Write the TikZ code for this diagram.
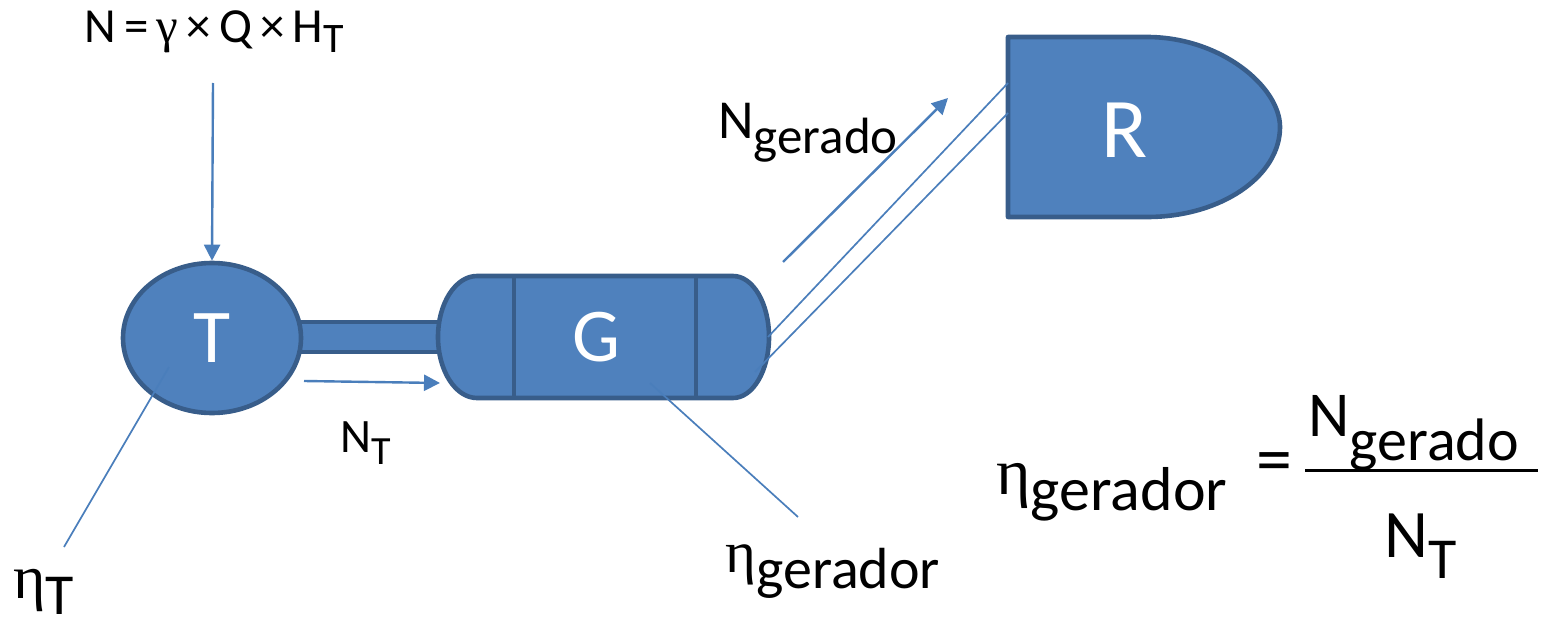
\documentclass[tikz,border=0pt]{standalone}
\usepackage{fontspec}
\setmainfont{Carlito}
\newfontfamily\greek{Liberation Serif}
\usetikzlibrary{shapes.geometric,arrows.meta}

\definecolor{shapefill}{HTML}{4F81BD}
\definecolor{shapeline}{HTML}{385D8A}
\definecolor{wire}{HTML}{4A7EBB}

\newcommand\fs[1]{\fontsize{#1}{#1}\selectfont}
\newcommand\lowsub[3]{\raisebox{-#1}{\fs{#2}#3}}

\begin{document}
\begin{tikzpicture}[x=0.5pt,y=-0.5pt,
  body/.style={fill=shapefill,draw=shapeline,line width=2.3pt,line join=round},
  wirethin/.style={draw=wire,line width=0.85pt},
  flow/.style={draw=wire,line width=1.2pt,-{Triangle[length=8pt,width=8pt]}},
  lbl/.style={inner sep=0pt,anchor=base west,text=black},
  inlbl/.style={inner sep=0pt,text=white}]
\useasboundingbox (0,0) rectangle (1546,631);

% shaft between turbine and generator
\draw[body] (300,322) rectangle (445,352);

% turbine
\node[body,ellipse,minimum width=89pt,minimum height=75pt,inner sep=0pt,
      text=white,font=\fs{38pt}] (T) at (212,338) {T};

% generator: body with rounded caps and two bands
\draw[body] (477,276) -- (733,276)
  .. controls (752.9,276) and (769,303.3) .. (769,337)
  .. controls (769,370.7) and (752.9,398) .. (733,398)
  -- (477,398)
  .. controls (455.5,398) and (438,370.7) .. (438,337)
  .. controls (438,303.3) and (455.5,276) .. (477,276) -- cycle;
\draw[shapeline,line width=2.3pt] (514,276) -- (514,398);
\draw[shapeline,line width=2.3pt] (696,276) -- (696,398);
\node[inlbl,font=\fs{38pt}] (G) at (596,337) {G};

% receiver
\draw[body] (1008,37) -- (1147,37)
  .. controls (1220.5,37) and (1280,86.7) .. (1280,127)
  .. controls (1280,176.7) and (1220.5,217) .. (1147,217)
  -- (1008,217) -- cycle;
\node[inlbl,font=\fs{42.5pt}] (R) at (1125,130) {R};

% named ends of the connectors
\coordinate (inTop) at (213,83);
\coordinate (ntStart) at (304,381);
\coordinate (ntEnd) at (440,383);
\coordinate (ngStart) at (783,262);
\coordinate (ngEnd) at (948,98);
\coordinate (gOutA) at (768,337);
\coordinate (gOutB) at (755,372);
\coordinate (rInA) at (1008,83);
\coordinate (rInB) at (1008,113);
\coordinate (tLead) at (169,367);
\coordinate (tLeadEnd) at (64,547);
\coordinate (gLead) at (650,383);
\coordinate (gLeadEnd) at (798,517);

% power flows
\draw[flow] (inTop) -- (T.north);
\draw[flow] (ntStart) -- (ntEnd);
\draw[flow] (ngStart) -- (ngEnd);

% transmission line
\draw[wirethin] (gOutA) -- (rInA);
\draw[wirethin] (gOutB) -- (rInB);

% efficiency leaders
\draw[wirethin] (tLead) -- (tLeadEnd);
\draw[wirethin] (gLead) -- (gLeadEnd);

% labels
\node[lbl] (nIn) at (84,43) {\fs{24.5pt}N\,=\,{\greek γ}\,×\,Q\,×\,H\lowsub{5pt}{21pt}{T}};
\node[lbl] (nT) at (340,452) {\fs{24pt}N\lowsub{6pt}{20pt}{T}};
\node[lbl] (nGer) at (718,139) {\fs{27.5pt}N\lowsub{7pt}{25.5pt}{gerado}};
\node[lbl] (etaG) at (725,572) {{\greek\fs{29.5pt}η}\lowsub{8pt}{29pt}{gerador}};
\node[lbl] (etaT) at (13,598) {{\greek\fs{31pt}η}\lowsub{8pt}{29pt}{T}};

% efficiency formula
\node[lbl] (effL) at (996,494) {{\greek\fs{33pt}η}\lowsub{8pt}{31pt}{gerador}};
\node[inlbl,text=black,font=\fs{36pt}] (effEq) at (1274,468) {=};
\node[lbl] (num) at (1308,436) {\fs{32pt}N\lowsub{12pt}{30pt}{gerado}};
\node[lbl] (den) at (1384,557) {\fs{34pt}N\lowsub{10.5pt}{29pt}{T}};
\coordinate (barL) at (1305,470);
\coordinate (barR) at (1538,470);
\draw[black,line width=1.5pt] (barL) -- (barR);
\end{tikzpicture}
\end{document}
